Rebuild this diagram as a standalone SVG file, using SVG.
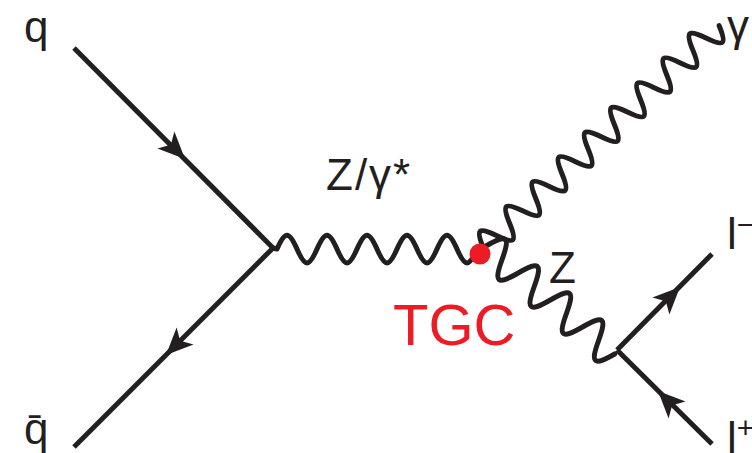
<svg xmlns="http://www.w3.org/2000/svg" width="752" height="453" viewBox="0 0 752 453">
<style>
.ln{fill:none;stroke:#231F20;stroke-width:5;stroke-linecap:butt;stroke-linejoin:round}
.wv{fill:none;stroke:#231F20;stroke-width:5;stroke-linecap:round;stroke-linejoin:round}
.ar{fill:#231F20}
.lb{font-family:"Liberation Sans",Arial,sans-serif;fill:#231F20;font-size:44px}
.tgc{font-family:"Liberation Sans",Arial,sans-serif;fill:#ED1C24;font-size:58px}
</style>
<defs>
<path id="arrow" d="M0,0 L-27,-12 L-20,0 L-27,12 Z"/>
</defs>
<g id="connectors">
<path class="ln" d="M74,48 L273,248"/>
<path class="ln" d="M273,248 L74,447"/>
<path class="ln" d="M617,350 L712,254"/>
<path class="ln" d="M712,444 L617,350"/>
<use href="#arrow" class="ar" transform="translate(185,159) rotate(45)"/>
<use href="#arrow" class="ar" transform="translate(166,355) rotate(135)"/>
<use href="#arrow" class="ar" transform="translate(680,287) rotate(-45)"/>
<use href="#arrow" class="ar" transform="translate(658,391) rotate(-135)"/>
<path id="propagator" class="wv" d="M273,248 L277,249 c8,-18.5 12,-18.5 20,0 c8,18.5 12,18.5 20,0 c8,-18.5 12,-18.5 20,0 c8,18.5 12,18.5 20,0 c8,-18.5 12,-18.5 20,0 c8,18.5 12,18.5 20,0 c8,-18.5 12,-18.5 20,0 c8,18.5 12,18.5 20,0 c8,-18.5 12,-18.5 20,0 c8,18.5 12,18.5 20,0"/>
<path id="photon" class="wv" transform="translate(479,252) rotate(-43.3)" d="M0,0 L6,0 c7.2,-19 10.8,-19 18,0 c7.2,19 10.8,19 18,0 c7.2,-19 10.8,-19 18,0 c7.2,19 10.8,19 18,0 c7.2,-19 10.8,-19 18,0 c7.2,19 10.8,19 18,0 c7.2,-19 10.8,-19 18,0 c7.2,19 10.8,19 18,0 c7.2,-19 10.8,-19 18,0 c7.2,19 10.8,19 18,0 c7.2,-19 10.8,-19 18,0 c7.2,19 10.8,19 18,0 c7.2,-19 10.8,-19 18,0 c7.2,19 10.8,19 18,0 c7.2,-19 10.8,-19 18,0 c7.2,19 10.8,19 18,0 c7.2,-19 10.8,-19 18,0 c7.2,19 10.8,19 18,0"/>
<path id="zboson" class="wv" transform="translate(486,246) rotate(40)" d="M0,0 c8.4,-23 12.6,-23 21,0 c8.4,23 12.6,23 21,0 c8.4,-23 12.6,-23 21,0 c8.4,23 12.6,23 21,0 c8.4,-23 12.6,-23 21,0 c8.4,23 12.6,23 21,0 c8.4,-23 12.6,-23 21,0 c8.4,23 12.6,23 21,0"/>
</g>
<g id="vertex-tgc">
<circle cx="480" cy="254" r="10.5" fill="#ED1C24"/>
<text class="tgc" x="393" y="345">TGC</text>
</g>
<g id="node-q"><text class="lb" x="24" y="42">q</text></g>
<g id="node-qbar"><text class="lb" x="24" y="444">q̄</text></g>
<g id="node-gamma"><text class="lb" x="727" y="41">γ</text></g>
<g id="node-lminus"><text class="lb" x="727" y="249">l<tspan font-size="30" dy="-14">−</tspan></text></g>
<g id="node-lplus"><text class="lb" x="727" y="453">l<tspan font-size="30" dy="-15">+</tspan></text></g>
<g id="label-zgamma"><text class="lb" x="326" y="190" letter-spacing="2">Z/γ*</text></g>
<g id="label-z"><text class="lb" x="549" y="283" font-size="40">Z</text></g>
</svg>
